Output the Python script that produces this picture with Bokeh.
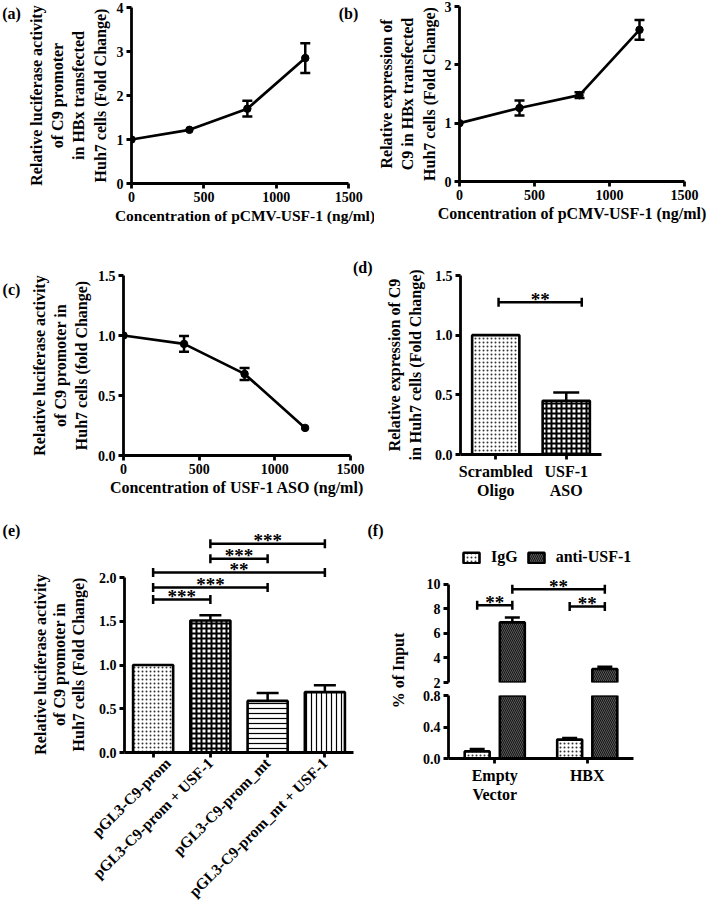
from math import pi
from bokeh.plotting import figure
from bokeh.layouts import row, column
from bokeh.models import (ColumnDataSource, Whisker, TeeHead, Label, FixedTicker, Title,
                          Range1d, Legend, LegendItem, PrintfTickFormatter)
from bokeh.core.properties import value
from bokeh.embed import file_html
from bokeh.resources import INLINE

FONT = "Liberation Serif"

# ---------------- data ----------------
conc_ticks = [0, 500, 1000, 1500]

a_conc = [0, 400, 800, 1200]
a_fold = [1.0, 1.22, 1.70, 2.85]
a_err = [0.0, 0.0, 0.18, 0.34]
a_yticks = [0, 1, 2, 3, 4]

b_conc = [0, 400, 800, 1200]
b_fold = [1.0, 1.26, 1.48, 2.60]
b_err = [0.0, 0.13, 0.05, 0.17]
b_yticks = [0, 1, 2, 3]

c_conc = [0, 400, 800, 1200]
c_fold = [1.0, 0.93, 0.68, 0.23]
c_err = [0.0, 0.065, 0.05, 0.0]
c_yticks = [0.0, 0.5, 1.0, 1.5]

d_labels = ["Scrambled\nOligo", "USF-1\nASO"]
d_fold = [1.0, 0.45]
d_err = [0.0, 0.07]
d_yticks = [0.0, 0.5, 1.0, 1.5]
d_sig_x0 = [0.54]
d_sig_x1 = [1.72]
d_sig_y = [1.275]
d_sig_text = ["**"]

e_labels = ["pGL3-C9-prom", "pGL3-C9-prom + USF-1",
            "pGL3-C9-prom_mt", "pGL3-C9-prom_mt + USF-1"]
e_fold = [1.0, 1.51, 0.59, 0.69]
e_err = [0.0, 0.06, 0.09, 0.08]
e_yticks = [0.0, 0.5, 1.0, 1.5, 2.0]
e_sig_a = [0, 0, 0, 1, 1]
e_sig_b = [1, 2, 3, 2, 3]
e_sig_y = [1.75, 1.886, 2.057, 2.216, 2.386]
e_sig_text = ["***", "***", "**", "***", "***"]
e_ylabel = ["Relative luciferase activity", "of C9 promoter in", "Huh7 cells (Fold Change)"]

f_labels = ["Empty\nVector", "HBX"]
f_series = ["IgG", "anti-USF-1"]
f_igg = [0.09, 0.24]
f_igg_err = [0.03, 0.02]
f_anti = [6.9, 3.1]
f_anti_err = [0.4, 0.18]
f_top_ticks = [2, 4, 6, 8, 10]
f_bot_ticks = [0.0, 0.4, 0.8]
f_ylabel = "% of Input"
# brackets: (group, series) -> (group, series)
f_sig_from = [(0, 0), (0, 1), (1, 0)]
f_sig_to = [(0, 1), (1, 1), (1, 1)]
f_sig_y = [8.3, 9.6, 8.2]
f_sig_text = ["**", "**", "**"]

# ---------------- styles ----------------
LW = 2.6
DOTS = dict(fill_color="white", hatch_pattern="dot", hatch_color="#333333", hatch_scale=4, hatch_weight=1)
CHECK = dict(fill_color="white", hatch_pattern="cross", hatch_color="black", hatch_scale=5, hatch_weight=2)
HLINE = dict(fill_color="white", hatch_pattern="horizontal_line", hatch_color="black", hatch_scale=5, hatch_weight=1.2)
VLINE = dict(fill_color="white", hatch_pattern="vertical_line", hatch_color="black", hatch_scale=5, hatch_weight=1.2)
DARK = dict(fill_color="#151515", hatch_pattern="left_diagonal_line", hatch_color="#5a5a5a", hatch_scale=4, hatch_weight=1)
d_styles = [DOTS, CHECK]
e_styles = [DOTS, CHECK, HLINE, VLINE]
dec1 = PrintfTickFormatter(format="%.1f")


def style_axes(p):
    for ax in p.axis:
        ax.axis_line_width = 2.8
        ax.axis_line_color = "black"
        ax.major_tick_line_width = 2.8
        ax.major_tick_line_color = "black"
        ax.major_tick_out = 5
        ax.major_tick_in = 0
        ax.minor_tick_line_color = None
        ax.major_label_standoff = 3
        ax.major_label_text_font = FONT
        ax.major_label_text_font_style = "bold"
        ax.major_label_text_font_size = "14px"
        ax.major_label_text_color = "black"
        ax.axis_label_text_font = FONT
        ax.axis_label_text_font_style = "bold"
        ax.axis_label_text_font_size = "16px"
        ax.axis_label_text_color = "black"
        ax.axis_label_text_line_height = 1.25


def make_fig(w, h, ml, mr, mt, mb, xr, yr, x_axis=True, y_axis=True):
    p = figure(width=w, height=h, title=None, x_range=Range1d(*xr), y_range=Range1d(*yr),
               output_backend="svg", toolbar_location=None,
               x_axis_location="below" if x_axis else None,
               y_axis_location="left" if y_axis else None,
               min_border_left=ml, min_border_right=mr, min_border_top=mt, min_border_bottom=mb)
    p.outline_line_color = None
    p.xgrid.visible = False
    p.ygrid.visible = False
    p.background_fill_color = "white"
    p.border_fill_color = "white"
    style_axes(p)
    return p


def text_fig(w, h):
    return make_fig(w, h, 0, 0, 0, 0, (0, 1), (0, 1), x_axis=False, y_axis=False)


def add_label(p, text, x, y, size="16px", angle=0.0):
    p.add_layout(Label(x=x, y=y, x_units="screen", y_units="screen", text=text,
                       text_font=FONT, text_font_style="bold", text_font_size=size,
                       text_align="center", text_baseline="middle", angle=angle,
                       text_color="black"))


def line_panel(p, xs, ys, errs):
    p.line(xs, ys, line_width=2.7, line_color="black")
    p.scatter(xs, ys, size=7.5, fill_color="black", line_color="black")
    keep = [i for i, e in enumerate(errs) if e > 0]
    src = ColumnDataSource(dict(x=[xs[i] for i in keep],
                                lo=[ys[i] - errs[i] for i in keep],
                                hi=[ys[i] + errs[i] for i in keep]))
    p.add_layout(Whisker(source=src, base="x", lower="lo", upper="hi", dimension="height",
                         line_width=2.5, line_color="black",
                         upper_head=TeeHead(size=10, line_width=2.5, line_color="black"),
                         lower_head=TeeHead(size=10, line_width=2.5, line_color="black")))


def up_err(p, xs, tops, errs, head):
    keep = [i for i, e in enumerate(errs) if e > 0]
    src = ColumnDataSource(dict(x=[xs[i] for i in keep],
                                lo=[tops[i] for i in keep],
                                hi=[tops[i] + errs[i] for i in keep]))
    p.add_layout(Whisker(source=src, base="x", lower="lo", upper="hi", dimension="height",
                         line_width=2.5, line_color="black",
                         upper_head=TeeHead(size=head, line_width=2.5, line_color="black"),
                         lower_head=None))


def brackets(p, x0s, x1s, ys, texts):
    p.segment(x0=x0s, y0=ys, x1=x1s, y1=ys, line_width=2.5, line_color="black")
    p.scatter(x=list(x0s) + list(x1s), y=list(ys) + list(ys), marker="dash", size=9,
              angle=pi / 2, line_width=2.5, line_color="black")
    p.text(x=[(a + b) / 2 for a, b in zip(x0s, x1s)], y=ys, text=texts,
           text_align="center", text_baseline="alphabetic", y_offset=-3,
           text_font=value(FONT), text_font_style="bold", text_font_size="19px",
           text_color="black")


# ---------------- left panel-letter column (rows 1-2) ----------------
LL = text_fig(24, 505)
add_label(LL, "(a)", 11, 492.5)
add_label(LL, "(c)", 11, 216)

# ---------------- (a) ----------------
pa = make_fig(350, 240, 102, 16, 7, 57, (0, 1500 + 1500 * 10 / 222), (0, 4))
pa.xaxis.ticker = FixedTicker(ticks=conc_ticks)
pa.yaxis.ticker = FixedTicker(ticks=a_yticks)
pa.xaxis.bounds = (0, 1500)
pa.xaxis.axis_label = "Concentration of pCMV-USF-1 (ng/ml)"
pa.xaxis.axis_label_text_font_size = "15.5px"
pa.xaxis.axis_label_standoff = 2
pa.yaxis.axis_label = "Relative luciferase activity\nof C9 promoter\nin HBx transfected\nHuh7 cells (Fold Change)"
pa.yaxis.axis_label_standoff = 5
line_panel(pa, a_conc, a_fold, a_err)
add_label(pa, "(b)", 217, 170)

# ---------------- (b) ----------------
pb = make_fig(334, 240, 82, 24, 6, 59, (0, 1500), (0, 3))
pb.xaxis.ticker = FixedTicker(ticks=conc_ticks)
pb.yaxis.ticker = FixedTicker(ticks=b_yticks)
pb.xaxis.axis_label = "Concentration of pCMV-USF-1 (ng/ml)"
pb.xaxis.axis_label_standoff = 2
pb.yaxis.axis_label = "Relative expression of\nC9 in HBx transfected\nHuh7 cells (Fold Change)"
pb.yaxis.axis_label_standoff = 4
line_panel(pb, b_conc, b_fold, b_err)

# ---------------- (c) ----------------
pc = make_fig(349, 265, 99, 23, 35, 50, (0, 1500), (0, 1.5))
pc.xaxis.ticker = FixedTicker(ticks=conc_ticks)
pc.yaxis.ticker = FixedTicker(ticks=c_yticks)
pc.yaxis.formatter = dec1
pc.xaxis.axis_label = "Concentration of USF-1 ASO (ng/ml)"
pc.xaxis.axis_label_standoff = 2
pc.yaxis.axis_label = "Relative luciferase activity\nof C9 promoter in\nHuh7 cells (fold Change)"
pc.yaxis.axis_label_standoff = 5
line_panel(pc, c_conc, c_fold, c_err)
pc.add_layout(Title(text="(d)", align="right", offset=-22, standoff=0,
                    text_font=FONT, text_font_style="bold", text_font_size="16px",
                    text_color="black"), "above")

# ---------------- (d) ----------------
pd_ = make_fig(335, 265, 87, 107, 35, 51, (0, 2), (0, 1.5))
d_x = [i + 0.5 for i in range(len(d_labels))]
pd_.xaxis.ticker = FixedTicker(ticks=d_x)
pd_.xaxis.major_label_overrides = {x: lab for x, lab in zip(d_x, d_labels)}
pd_.xaxis.major_label_text_font_size = "16px"
pd_.xaxis.major_label_text_line_height = 1.15
pd_.yaxis.ticker = FixedTicker(ticks=d_yticks)
pd_.yaxis.formatter = dec1
pd_.yaxis.axis_label = "Relative expression of C9\nin Huh7 cells (Fold Change)"
pd_.yaxis.axis_label_standoff = 8
for i in range(len(d_labels)):
    pd_.vbar(x=[d_x[i]], top=[d_fold[i]], width=0.67, line_color="black", line_width=LW, **d_styles[i])
up_err(pd_, d_x, d_fold, d_err, 26)
brackets(pd_, d_sig_x0, d_sig_x1, d_sig_y, d_sig_text)

# ---------------- (e) ----------------
LE = text_fig(88, 413)
add_label(LE, "(e)", 11, 388)
for xline, txt in zip([40, 59, 78], e_ylabel):
    add_label(LE, txt, xline, 254, angle=pi / 2)

pe = make_fig(272, 413, 36, 7, 24, 166, (0, 4), (0, 2.55))
e_x = [i + 0.5 for i in range(len(e_labels))]
pe.xaxis.ticker = FixedTicker(ticks=e_x)
pe.xaxis.major_label_overrides = {x: lab for x, lab in zip(e_x, e_labels)}
pe.xaxis.major_label_orientation = pi / 4
pe.xaxis.major_label_text_font_size = "15.5px"
pe.yaxis.ticker = FixedTicker(ticks=e_yticks)
pe.yaxis.formatter = dec1
pe.yaxis.bounds = (0, 2)
for i in range(len(e_labels)):
    pe.vbar(x=[e_x[i]], top=[e_fold[i]], width=0.7, line_color="black", line_width=LW, **e_styles[i])
up_err(pe, e_x, e_fold, e_err, 22)
brackets(pe, [e_x[a] for a in e_sig_a], [e_x[b] for b in e_sig_b], e_sig_y, e_sig_text)

# ---------------- (f) labels ----------------
ML = text_fig(50, 413)
add_label(ML, "(f)", 15, 388)
add_label(ML, f_ylabel, 38, 248, angle=pi / 2)

# ---------------- (f) broken axis ----------------
f_xr = Range1d(0, 2)
f_off = [-0.19, 0.19]
f_igg_x = [i + 0.5 + f_off[0] for i in range(len(f_labels))]
f_anti_x = [i + 0.5 + f_off[1] for i in range(len(f_labels))]
f_pos = [f_igg_x, f_anti_x]

pft = make_fig(298, 184, 38, 75, 36, 7, (0, 2), (2, 13.5), x_axis=False)
pft.x_range = f_xr
pft.yaxis.ticker = FixedTicker(ticks=f_top_ticks)
pft.yaxis.bounds = (2, 10)

pfb = make_fig(298, 229, 38, 75, 6, 160, (0, 2), (0, 0.8))
pfb.x_range = f_xr
pfb.yaxis.ticker = FixedTicker(ticks=f_bot_ticks)
pfb.yaxis.formatter = dec1
f_x = [i + 0.5 for i in range(len(f_labels))]
pfb.xaxis.ticker = FixedTicker(ticks=f_x)
pfb.xaxis.major_label_overrides = {x: lab for x, lab in zip(f_x, f_labels)}
pfb.xaxis.major_label_text_font_size = "16px"
pfb.xaxis.major_label_text_line_height = 1.15

rend = {}
for p in (pft, pfb):
    r1 = p.vbar(x=f_igg_x, top=f_igg, width=0.27, line_color="black", line_width=LW, **DOTS)
    r2 = p.vbar(x=f_anti_x, top=f_anti, width=0.27, line_color="black", line_width=LW, **DARK)
    rend[p.id] = (r1, r2)
up_err(pfb, f_igg_x, f_igg, f_igg_err, 15)
up_err(pft, f_anti_x, f_anti, f_anti_err, 15)
brackets(pft, [f_pos[s][g] for g, s in f_sig_from], [f_pos[s][g] for g, s in f_sig_to], f_sig_y, f_sig_text)

r_igg, r_anti = rend[pft.id]
r_igg.visible = False  # IgG values lie below the upper axis segment
leg = Legend(items=[LegendItem(label=f_series[0], renderers=[r_igg]),
                    LegendItem(label=f_series[1], renderers=[r_anti])],
             orientation="horizontal", location=(13, 116),
             border_line_color=None, background_fill_alpha=0,
             padding=0, margin=0, spacing=8, glyph_width=20, glyph_height=13,
             label_standoff=10, label_text_font=FONT, label_text_font_style="bold",
             label_text_font_size="16px", label_text_color="black")
pft.add_layout(leg)

layout = column(
    row(LL,
        column(row(column(pa), column(pb), spacing=0),
               row(column(pc), column(pd_), spacing=0), spacing=0),
        spacing=0),
    row(column(LE), column(pe), column(ML), column(pft, pfb, spacing=0), spacing=0),
    spacing=0)

open("out.html", "w").write(file_html(layout, INLINE))
